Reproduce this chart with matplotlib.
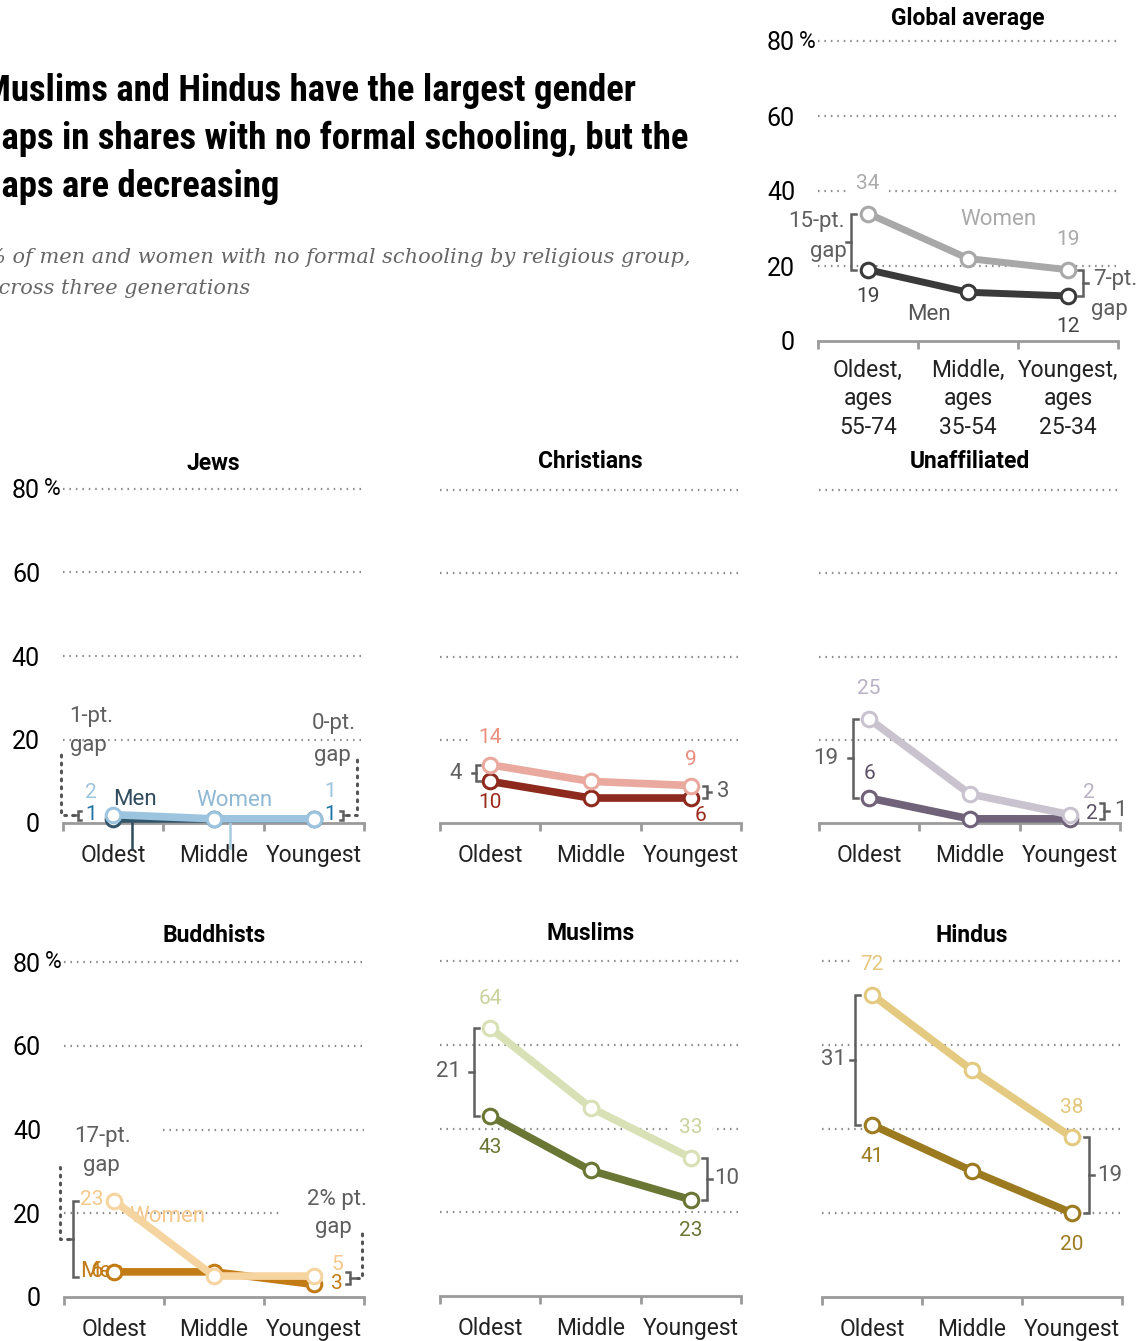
import matplotlib.pyplot as plt
from matplotlib import font_manager
import numpy as np

W, H = 1143, 1341


def pick(names):
    have = {f.name for f in font_manager.fontManager.ttflist}
    for n in names:
        if n in have:
            return n
    return 'DejaVu Sans'


BODY = pick(['Roboto', 'Open Sans', 'DejaVu Sans'])
COND = pick(['Liberation Sans Narrow', 'Roboto Condensed', 'Roboto'])
SERIF = pick(['DejaVu Serif', 'Liberation Serif'])
plt.rcParams['font.family'] = BODY

# ---- data ----
generations = ['Oldest', 'Middle', 'Youngest']
global_ticks = ['Oldest,\nages\n55-74', 'Middle,\nages\n35-54', 'Youngest,\nages\n25-34']

global_women = [34, 22, 19]
global_men = [19, 13, 12]
jews_women = [2, 1, 1]
jews_men = [1, 1, 1]
christians_women = [14, 10, 9]
christians_men = [10, 6, 6]
unaffiliated_women = [25, 7, 2]
unaffiliated_men = [6, 1, 1]
buddhists_women = [23, 5, 5]
buddhists_men = [6, 6, 3]
muslims_women = [64, 45, 33]
muslims_men = [43, 30, 23]
hindus_women = [72, 54, 38]
hindus_men = [41, 30, 20]

x = np.array([0.5, 1.5, 2.5])
GRID = '#8c8c8c'
ANN = '#5f5f5f'
AXC = '#9a9a9a'
NUM = 15      # value labels
ANNS = 16     # gap annotations

fig = plt.figure(figsize=(W / 100, H / 100), dpi=100)


def P(px):
    # pixels -> points
    return px * 0.72


def panel(left, right, zero, top, title, title_y, ylabels=False, xt=generations,
          grid=None, xpad=15):
    ax = fig.add_axes([left / W, 1 - zero / H, (right - left) / W, (zero - top) / H])
    ax.set_xlim(0, 3)
    ax.set_ylim(0, 80)
    ax.set_facecolor('none')
    for s in ['left', 'right', 'top']:
        ax.spines[s].set_visible(False)
    ax.spines['bottom'].set_color(AXC)
    ax.spines['bottom'].set_linewidth(2)
    ax.set_xticks([0, 1, 2, 3])
    ax.set_xticklabels([])
    ax.tick_params(axis='x', which='major', length=6, width=2, color=AXC, direction='out')
    ax.set_xticks([0.5, 1.5, 2.5], minor=True)
    ax.set_xticklabels(xt, minor=True, fontsize=16.5, color='#222222', linespacing=1.3)
    ax.tick_params(axis='x', which='minor', length=0, pad=xpad)
    ax.set_yticks([0, 20, 40, 60, 80])
    if ylabels:
        ax.set_yticklabels(['0', '20', '40', '60', '80'], fontsize=18)
        ax.annotate('%', (0, 80), xytext=(-2, 0), textcoords='offset points',
                    ha='right', va='center', fontsize=16.5, annotation_clip=False)
    else:
        ax.set_yticklabels([])
    ax.tick_params(axis='y', length=0, pad=P(23))
    if grid is None:
        grid = {}
    for v in [20, 40, 60, 80]:
        a, b = grid.get(v, (0, 3))
        ax.plot([a, b], [v, v], color=GRID, lw=1.6, ls=(0, (0.7, 2.2)),
                zorder=0, clip_on=False)
    cx = (left + right) / 2 / W
    fig.text(cx, 1 - title_y / H, title, ha='center', va='center',
             fontsize=16.5, fontweight='bold', color='black')
    return ax


def series(ax, vals, color, lw=5.5):
    ax.plot(x, vals, color=color, lw=lw, marker='o', ms=10.5, mfc='white',
            mec=color, mew=2.2, zorder=4, clip_on=False, solid_capstyle='round')


def lab(ax, xv, yv, s, color, dx=0, dy=0, ha='center', size=NUM, box=False):
    kw = {}
    if box:
        kw['bbox'] = dict(boxstyle='square,pad=0.45', fc='white', ec='none')
    ax.annotate(s, (xv, yv), xytext=(P(dx), P(dy)), textcoords='offset points',
                ha=ha, va='center', color=color, fontsize=size, zorder=2,
                annotation_clip=False, **kw)


def bracket(ax, xb, y0, y1, side='left', arm=0.05, tick=0.05, color=ANN, lw=1.8):
    s = -1 if side == 'left' else 1
    ax.plot([xb - s * arm, xb, xb, xb - s * arm], [y0, y0, y1, y1], color=color,
            lw=lw, zorder=3, clip_on=False, solid_joinstyle='miter')
    ym = (y0 + y1) / 2
    ax.plot([xb, xb + s * tick], [ym, ym], color=color, lw=lw, zorder=3, clip_on=False)
    return ym


def dots(ax, xs, ys):
    ax.plot(xs, ys, color='#555555', lw=2.2, ls=(0, (0.6, 2.0)), zorder=3,
            clip_on=False, dash_capstyle='round')


# ---- headline ----
fig.text(-17 / W, 1 - 139 / H,
         'Muslims and Hindus have the largest gender\n'
         'gaps in shares with no formal schooling, but the\n'
         'gaps are decreasing',
         ha='left', va='center', fontsize=26.5, fontweight='bold', family=COND,
         linespacing=1.42, color='black')
fig.text(-14 / W, 1 - 273 / H,
         '% of men and women with no formal schooling by religious group,\n'
         'across three generations',
         ha='left', va='center', fontsize=15, style='italic', family=SERIF,
         linespacing=1.75, color='#666666')

# ---- Global average ----
ax = panel(818, 1118, 341, 41, 'Global average', 19, ylabels=True, xt=global_ticks, xpad=13)
series(ax, global_men, '#3a3a3a', lw=5)
series(ax, global_women, '#a8a8a8', lw=5)
lab(ax, x[0], global_women[0], '34', '#aaaaaa', dy=30, box=True)
lab(ax, x[2], global_women[2], '19', '#aaaaaa', dy=30)
lab(ax, x[0], global_men[0], '19', '#444444', dy=-27)
lab(ax, x[2], global_men[2], '12', '#444444', dy=-31)
lab(ax, 1.8, 32.5, 'Women', '#aaaaaa', size=16)
lab(ax, 1.11, 7.2, 'Men', '#555555', size=16)
ym = bracket(ax, 0.33, global_women[0], global_men[0], 'left')
lab(ax, 0.27, ym, '15-pt.', ANN, dy=20, ha='right', size=ANNS)
lab(ax, 0.29, ym, 'gap', ANN, dy=-10, ha='right', size=ANNS)
ym = bracket(ax, 2.65, global_women[2], global_men[2], 'right')
lab(ax, 2.75, ym, '7-pt.', ANN, dy=3, ha='left', size=ANNS)
lab(ax, 2.73, ym, 'gap', ANN, dy=-27, ha='left', size=ANNS)

# ---- Jews ----
ax = panel(63, 364, 823, 489, 'Jews', 463, ylabels=True)
series(ax, jews_men, '#34566b')
series(ax, jews_women, '#9cc4de')
lab(ax, 0.28, jews_women[0], '2', '#9cc4de', dy=22)
lab(ax, 0.28, jews_men[0], '1', '#1f74a6', dy=4)
lab(ax, 2.66, jews_women[2], '1', '#9cc4de', dy=27)
lab(ax, 2.66, jews_men[2], '1', '#1f74a6', dy=4)
lab(ax, 0.72, 5.6, 'Men', '#2f4b5c', size=16)
lab(ax, 1.71, 5.3, 'Women', '#8fb8d4', size=16)
ax.plot([0.69, 0.69], [jews_men[0] + 0.4, -6], color='#2f4b5c', lw=1.8, zorder=3, clip_on=False)
ax.plot([1.66, 1.66], [jews_women[1] + 0.4, -6], color='#a9cbe0', lw=1.8, zorder=3, clip_on=False)
ym = bracket(ax, 0.15, 2.8, 0.8, 'left', arm=0.03, tick=0.04)
dots(ax, [0.11, -0.02, -0.02], [ym, ym, 17])
lab(ax, 0.06, 25.5, '1-pt.', ANN, ha='left', size=ANNS)
lab(ax, 0.07, 18.5, 'gap', ANN, ha='left', size=ANNS)
ym = bracket(ax, 2.79, 2.8, 0.8, 'right', arm=0.03, tick=0.04)
dots(ax, [2.83, 2.93, 2.93], [ym, ym, 15.5])
lab(ax, 2.92, 23.9, '0-pt.', ANN, ha='right', size=ANNS)
lab(ax, 2.87, 16.2, 'gap', ANN, ha='right', size=ANNS)

# ---- Christians ----
ax = panel(440, 741, 823, 490, 'Christians', 462)
series(ax, christians_men, '#8e2a1d')
series(ax, christians_women, '#eaa99e')
lab(ax, x[0], christians_women[0], '14', '#ea8f7f', dy=27, box=True)
lab(ax, x[0], christians_men[0], '10', '#9b2a1c', dy=-21)
lab(ax, x[2], christians_women[2], '9', '#ea8f7f', dy=26)
lab(ax, x[2], christians_men[2], '6', '#9b2a1c', dx=10, dy=-17)
ym = bracket(ax, 0.36, christians_women[0], christians_men[0], 'left', arm=0.04, tick=0.04)
lab(ax, 0.22, ym, '4', ANN, ha='right', size=ANNS)
ym = bracket(ax, 2.66, christians_women[2], christians_men[2], 'right', arm=0.04, tick=0.04)
lab(ax, 2.76, ym, '3', ANN, ha='left', size=ANNS)

# ---- Unaffiliated ----
ax = panel(819, 1120, 823, 490, 'Unaffiliated', 462)
series(ax, unaffiliated_men, '#6f6279')
series(ax, unaffiliated_women, '#c9c3d0')
lab(ax, x[0], unaffiliated_women[0], '25', '#b9b1c4', dy=30)
lab(ax, x[0], unaffiliated_men[0], '6', '#5c5066', dy=25)
lab(ax, x[2], unaffiliated_women[2], '2', '#b9b1c4', dx=19, dy=22)
lab(ax, x[2], unaffiliated_men[2], '2', '#5c5066', dx=22, dy=5)
ym = bracket(ax, 0.34, unaffiliated_women[0], unaffiliated_men[0], 'left')
lab(ax, 0.19, ym, '19', ANN, ha='right', size=ANNS)
ym = bracket(ax, 2.84, unaffiliated_women[2] + 2.8, unaffiliated_men[2], 'right', arm=0.04, tick=0.05)
lab(ax, 2.94, ym, '1', ANN, ha='left', size=ANNS)

# ---- Buddhists ----
ax = panel(64, 364, 1297, 962, 'Buddhists', 936, ylabels=True,
           grid={40: (0.99, 3), 20: (0, 2.16)})
series(ax, buddhists_men, '#c27b15')
series(ax, buddhists_women, '#f6d4a0')
lab(ax, x[0], buddhists_women[0], '23', '#f5c88a', dx=-22, dy=1)
lab(ax, 1.03, 19.2, 'Women', '#f5c88a', size=16)
lab(ax, 0.16, 6.0, 'Men', '#c27b15', ha='left', size=16)
lab(ax, 0.33, buddhists_men[0], '6', '#c27b15', size=16)
lab(ax, x[2], buddhists_women[2], '5', '#f5c88a', dx=23, dy=12)
lab(ax, x[2], buddhists_men[2], '3', '#c27b15', dx=23, dy=1)
ym = bracket(ax, 0.09, buddhists_women[0], buddhists_men[0] - 1.2, 'left', arm=0.05, tick=0.04)
dots(ax, [0.05, -0.04, -0.04], [ym, ym, 31])
lab(ax, 0.38, 38.3, '17-pt.', ANN, size=ANNS)
lab(ax, 0.37, 31.4, 'gap', ANN, size=ANNS)
ym = bracket(ax, 2.86, buddhists_men[0], buddhists_men[2], 'right', arm=0.04, tick=0.05)
dots(ax, [2.93, 2.98, 2.98], [ym, ym, 16])
lab(ax, 3.03, 23.4, '2% pt.', ANN, ha='right', size=ANNS)
lab(ax, 2.88, 16.7, 'gap', ANN, ha='right', size=ANNS)

# ---- Muslims ----
ax = panel(440, 741, 1296, 961, 'Muslims', 934)
series(ax, muslims_men, '#6a7634')
series(ax, muslims_women, '#d8e0b5')
lab(ax, x[0], muslims_women[0], '64', '#c9d39c', dy=29)
lab(ax, x[0], muslims_men[0], '43', '#6a7634', dy=-32)
lab(ax, x[2], muslims_women[2], '33', '#c9d39c', dy=30, box=True)
lab(ax, x[2], muslims_men[2], '23', '#6a7634', dy=-31)
ym = bracket(ax, 0.34, muslims_women[0], muslims_men[0], 'left')
lab(ax, 0.21, ym, '21', ANN, ha='right', size=ANNS)
ym = bracket(ax, 2.66, muslims_women[2], muslims_men[2], 'right')
lab(ax, 2.73, ym, '10', ANN, ha='left', size=ANNS)

# ---- Hindus ----
ax = panel(822, 1122, 1297, 961, 'Hindus', 936)
series(ax, hindus_men, '#9c7b20')
series(ax, hindus_women, '#e4ca80')
lab(ax, x[0], hindus_women[0], '72', '#e4c77c', dy=30, box=True)
lab(ax, x[0], hindus_men[0], '41', '#9c7b20', dy=-32)
lab(ax, x[2], hindus_women[2], '38', '#e4c77c', dy=30)
lab(ax, x[2], hindus_men[2], '20', '#9c7b20', dy=-32)
ym = bracket(ax, 0.33, hindus_women[0], hindus_men[0], 'left')
lab(ax, 0.24, ym, '31', ANN, ha='right', size=ANNS)
ym = bracket(ax, 2.67, hindus_women[2], hindus_men[2], 'right')
lab(ax, 2.75, ym, '19', ANN, ha='left', size=ANNS)

fig.savefig('out.png', dpi=100)
